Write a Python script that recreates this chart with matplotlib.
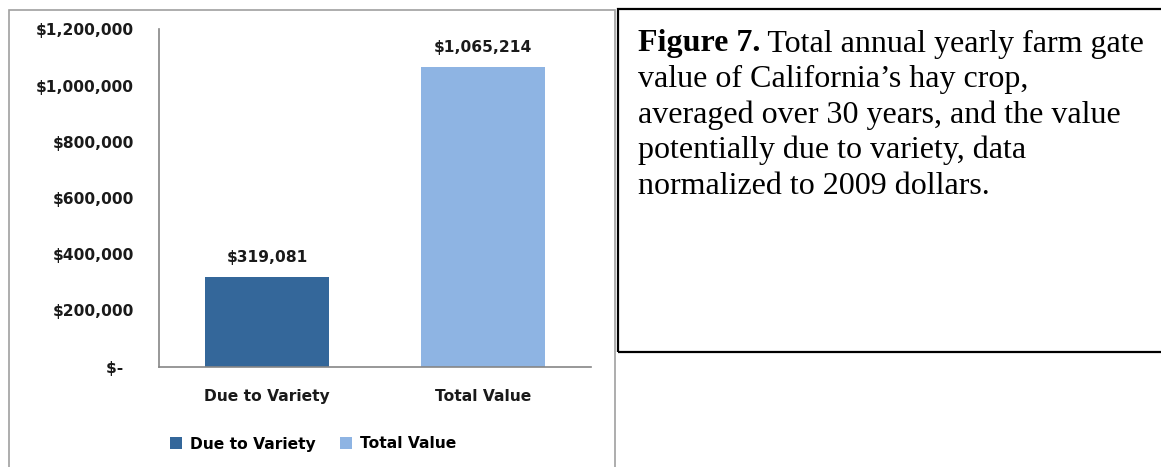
import matplotlib.pyplot as plt
from matplotlib.patches import Rectangle
from matplotlib.ticker import FuncFormatter

# data
categories = ['Due to Variety', 'Total Value']
values = [319081, 1065214]
colors = ['#34679a', '#8eb4e3']
yticks = [0, 200000, 400000, 600000, 800000, 1000000, 1200000]
caption_bold = 'Figure 7.'
caption_lines = [' Total annual yearly farm gate',
                 'value of California\u2019s hay crop,',
                 'averaged over 30 years, and the value',
                 'potentially due to variety, data',
                 'normalized to 2009 dollars.']

W, H = 1161, 467
fig = plt.figure(figsize=(W / 100, H / 100), dpi=100)
fig.patch.set_facecolor('white')

# panel frames
fig.patches.append(Rectangle((8.5 / W, -0.1), (615 - 8.5) / W, 1.1 - 9.5 / H,
                             transform=fig.transFigure, fill=False,
                             edgecolor='#a0a0a0', lw=1.2))
fig.patches.append(Rectangle((618 / W, 1 - 352 / H), 0.6, (352 - 9.3) / H,
                             transform=fig.transFigure, fill=False,
                             edgecolor='black', lw=1.6))

ax = fig.add_axes([159 / W, 1 - 366.7 / H, (591 - 159) / W, (366.7 - 29.3) / H])
x = range(len(categories))
bars = ax.bar(x, values, width=0.575, color=colors, label=categories)
ax.set_xlim(-0.5, 1.5)
ax.set_ylim(0, 1200000)
ax.set_yticks(yticks)


def money(v, pos):
    if v == 0:
        return '$-  '
    return '${:,.0f}'.format(v)


ax.yaxis.set_major_formatter(FuncFormatter(money))
ax.set_xticks(list(x))
ax.set_xticklabels(categories)
for sp in ['top', 'right']:
    ax.spines[sp].set_visible(False)
for sp in ['left', 'bottom']:
    ax.spines[sp].set_color('#868686')
    ax.spines[sp].set_linewidth(1.2)
fs = 11.2
ax.tick_params(axis='y', length=0, pad=18, labelsize=fs)
ax.tick_params(axis='x', length=0, pad=16, labelsize=fs)
for lab in ax.get_xticklabels() + ax.get_yticklabels():
    lab.set_fontweight('bold')
    lab.set_color('#1a1a1a')

for b, v in zip(bars, values):
    ax.annotate('${:,.0f}'.format(v), (b.get_x() + b.get_width() / 2, v),
                xytext=(0, 14), textcoords='offset points',
                ha='center', va='center', fontsize=fs, fontweight='bold',
                color='#1a1a1a')

leg = fig.legend(handles=list(bars), labels=categories, ncol=2, frameon=False,
                 loc='center', bbox_to_anchor=(313 / W, 1 - 444 / H),
                 prop={'weight': 'bold', 'size': fs},
                 handlelength=0.78, handleheight=0.78, handletextpad=0.5,
                 columnspacing=1.6)

# caption
fig.canvas.draw()
r = fig.canvas.get_renderer()
y0 = 44
step = 35.5
cfs = 23
t = fig.text(638 / W, 1 - y0 / H, caption_bold, family='Liberation Serif',
             fontweight='bold', fontsize=cfs, va='center', ha='left')
bb = t.get_window_extent(renderer=r)
fig.text(bb.x1 / W, 1 - y0 / H, caption_lines[0], family='Liberation Serif',
         fontsize=cfs, va='center', ha='left')
for i, line in enumerate(caption_lines[1:], start=1):
    fig.text(638 / W, 1 - (y0 + i * step) / H, line, family='Liberation Serif',
             fontsize=cfs, va='center', ha='left')

plt.savefig('out.png', dpi=100)
